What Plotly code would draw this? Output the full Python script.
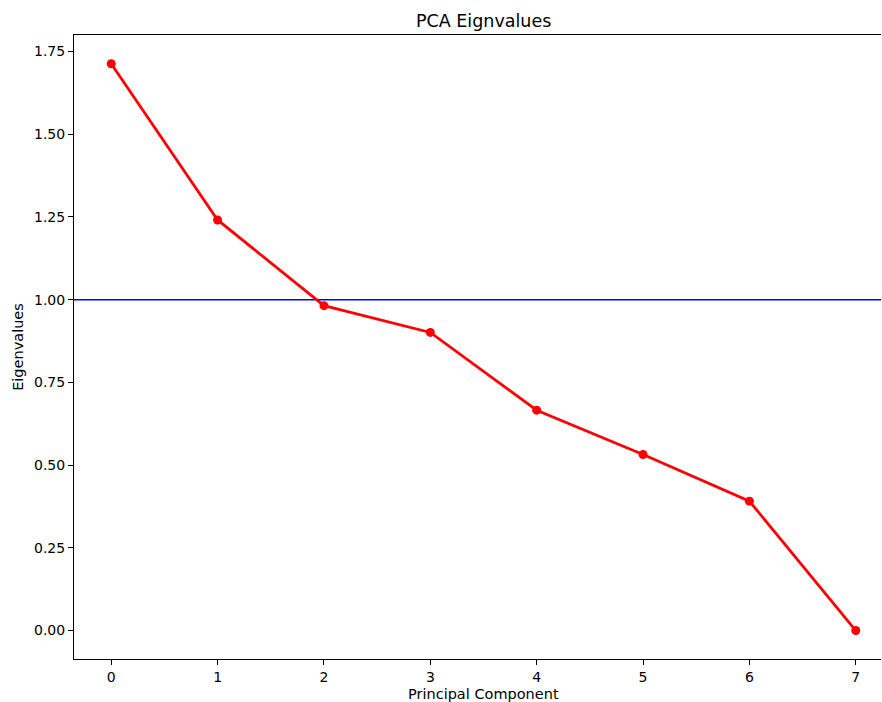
import plotly.graph_objects as go

# Eigenvalues for each principal component
components = [0, 1, 2, 3, 4, 5, 6, 7]
eigenvalues = [1.713, 1.241, 0.982, 0.901, 0.666, 0.532, 0.391, 0.0]
threshold = 1.0
y_ticks = [0.0, 0.25, 0.5, 0.75, 1.0, 1.25, 1.5, 1.75]
x_ticks = [0, 1, 2, 3, 4, 5, 6, 7]

W, H = 882, 702
ml, mr, mt, mb = 74, 1, 35, 43
plot_w = W - ml - mr
plot_h = H - mt - mb
axes_cx = 483.5  # centre of the full axes span (extends past the right edge)

fig = go.Figure()

fig.add_trace(go.Scatter(
    x=components, y=eigenvalues,
    mode="lines+markers",
    line=dict(color="#ff0000", width=2.8),
    marker=dict(color="#ff0000", size=9),
    showlegend=False,
))

# Kaiser criterion reference line
fig.add_hline(y=threshold, line=dict(color="#0000ff", width=1.6), layer="below")

font_family = "DejaVu Sans, sans-serif"

fig.update_layout(
    width=W, height=H,
    margin=dict(l=ml, r=mr, t=mt, b=mb, pad=0),
    paper_bgcolor="white", plot_bgcolor="white",
    font=dict(family=font_family, size=14, color="black"),
    showlegend=False,
)

fig.update_xaxes(
    range=[-0.35, 7.237],
    tickmode="array", tickvals=x_ticks, ticktext=[str(v) for v in x_ticks],
    showgrid=False, zeroline=False,
    showline=True, linecolor="black", linewidth=1, mirror=True,
    ticks="outside", ticklen=5, tickwidth=1, tickcolor="black",
    tickfont=dict(size=14),
)
fig.update_yaxes(
    range=[-0.086, 1.80],
    tickmode="array", tickvals=y_ticks, ticktext=[f"{v:.2f}" for v in y_ticks],
    showgrid=False, zeroline=False,
    showline=True, linecolor="black", linewidth=1, mirror=False,
    ticks="outside", ticklen=5, tickwidth=1, tickcolor="black",
    tickfont=dict(size=14),
    title=dict(text="Eigenvalues", font=dict(size=14.5), standoff=6),
)

# X axis label, centred under the full axes span
fig.add_annotation(
    text="Principal Component",
    xref="paper", yref="paper",
    x=(axes_cx - ml) / plot_w, y=-(694 - (H - mb)) / plot_h,
    xanchor="center", yanchor="middle",
    showarrow=False, font=dict(size=14.5, family=font_family, color="black"),
)

# Title centred over the full axes span
fig.add_annotation(
    text="PCA Eignvalues",
    xref="paper", yref="paper",
    x=(axes_cx - ml) / plot_w, y=1 + (mt - 21) / plot_h,
    xanchor="center", yanchor="middle",
    showarrow=False, font=dict(size=17.5, family=font_family, color="black"),
)

fig.write_html("out.html")
